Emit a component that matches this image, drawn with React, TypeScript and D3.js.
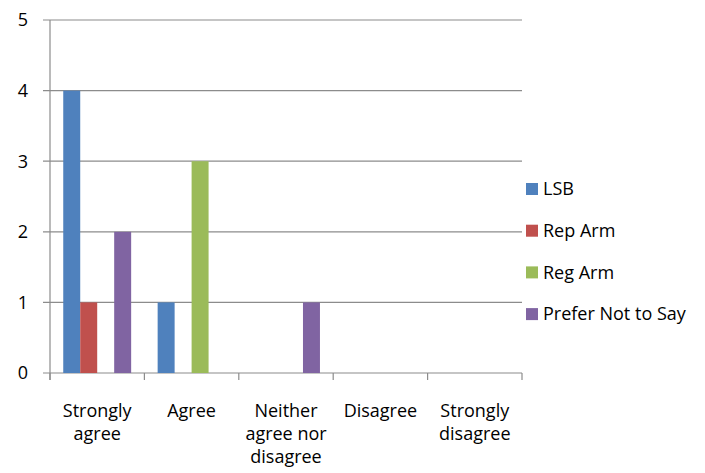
import React from "react";
import * as d3 from "d3";

const categories = [
  ["Strongly", "agree"],
  ["Agree"],
  ["Neither", "agree nor", "disagree"],
  ["Disagree"],
  ["Strongly", "disagree"],
];
const seriesNames = ["LSB", "Rep Arm", "Reg Arm", "Prefer Not to Say"];
const seriesColors = ["#4F81BD", "#C0504D", "#9BBB59", "#8064A2"];
const lsb = [4, 1, 0, 0, 0];
const repArm = [1, 0, 0, 0, 0];
const regArm = [0, 3, 0, 0, 0];
const preferNot = [2, 0, 1, 0, 0];
const yTicks = [0, 1, 2, 3, 4, 5];

const seriesValues = [lsb, repArm, regArm, preferNot];

const W = 705;
const H = 473;
const left = 50;
const right = 522;
const top = 20;
const bottom = 373;
const font = "'Open Sans', sans-serif";
const fontSize = 18;
const gridColor = "#8C8C8C";

export default function App() {
  const catIdx = categories.map((_, i) => String(i));
  const x = d3.scaleBand<string>().domain(catIdx).range([left, right]).paddingInner(0).paddingOuter(0);
  const inner = d3
    .scaleBand<string>()
    .domain(seriesNames)
    .range([0, x.bandwidth()])
    .paddingInner(0)
    .paddingOuter(0.78);
  const y = d3.scaleLinear().domain([0, 5]).range([bottom, top]);

  const tickXs = [...catIdx.map((c) => x(c) as number), right];

  return (
    <svg
      width={W}
      height={H}
      style={{ position: "absolute", left: 0, top: 0, background: "#fff" }}
      fontFamily={font}
    >
      {/* horizontal gridlines and left tick marks */}
      {yTicks.map((t) => (
        <g key={t}>
          <line x1={43} x2={right} y1={y(t)} y2={y(t)} stroke={gridColor} strokeWidth={1.2} />
          <text x={28} y={y(t)} dy="0.35em" textAnchor="end" fontSize={fontSize} fill="#000">
            {t}
          </text>
        </g>
      ))}
      {/* vertical axis */}
      <line x1={left} x2={left} y1={top} y2={bottom + 7} stroke={gridColor} strokeWidth={1.2} />
      {/* category tick marks */}
      {tickXs.map((tx, i) => (
        <line key={i} x1={tx} x2={tx} y1={bottom} y2={bottom + 7} stroke={gridColor} strokeWidth={1.2} />
      ))}
      {/* bars */}
      {seriesValues.map((vals, si) =>
        vals.map((v, ci) =>
          v > 0 ? (
            <rect
              key={`${si}-${ci}`}
              x={(x(String(ci)) as number) + (inner(seriesNames[si]) as number)}
              y={y(v)}
              width={inner.bandwidth()}
              height={y(0) - y(v)}
              fill={seriesColors[si]}
            />
          ) : null
        )
      )}
      {/* category labels */}
      {categories.map((lines, ci) => (
        <text
          key={ci}
          x={(x(String(ci)) as number) + x.bandwidth() / 2}
          y={416.5}
          textAnchor="middle"
          fontSize={fontSize}
          fill="#000"
        >
          {lines.map((ln, li) => (
            <tspan key={li} x={(x(String(ci)) as number) + x.bandwidth() / 2} dy={li === 0 ? 0 : 23}>
              {ln}
            </tspan>
          ))}
        </text>
      ))}
      {/* legend */}
      {seriesNames.map((name, si) => {
        const cy = 189 + si * 41.7;
        return (
          <g key={name}>
            <rect x={526} y={cy - 6} width={12} height={12} fill={seriesColors[si]} />
            <text x={543} y={cy} dy="0.35em" fontSize={fontSize} fill="#000">
              {name}
            </text>
          </g>
        );
      })}
    </svg>
  );
}
